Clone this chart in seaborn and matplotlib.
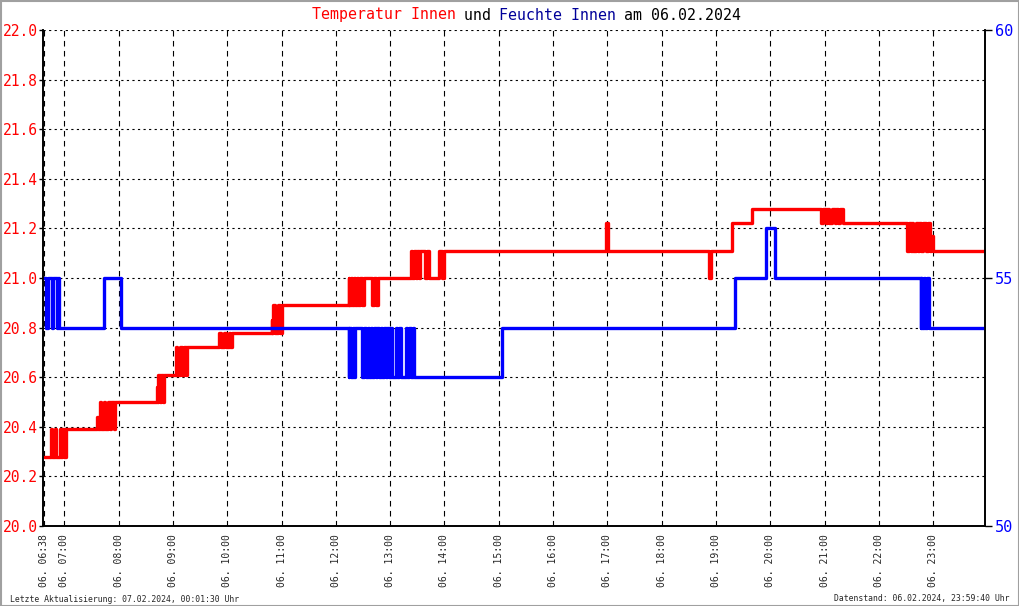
import matplotlib
matplotlib.use("Agg")
import matplotlib.pyplot as plt
import matplotlib.patches as mpatches
import numpy as np
import pandas as pd
import seaborn as sns

# Temperatur Innen (step values, held until next time stamp)
temp_times = ["06:38", "06:45", "06:46", "06:50", "06:51", "06:55", "06:56", "06:58", "07:00", "07:02",
              "07:36", "07:37", "07:39", "07:41", "07:44", "07:45", "07:48", "07:50", "07:52", "07:55", "07:56",
              "08:42", "08:43", "08:44", "08:46", "08:47", "08:49", "08:50",
              "09:03", "09:04", "09:08", "09:10", "09:12", "09:14", "09:16",
              "09:51", "09:53", "09:56", "09:59", "10:02", "10:03", "10:05",
              "10:49", "10:50", "10:51", "10:53", "10:56", "10:58", "11:00",
              "12:14", "12:15", "12:17", "12:18", "12:20", "12:21", "12:23", "12:25", "12:27", "12:29", "12:31",
              "12:40", "12:42", "12:44", "12:47",
              "13:23", "13:24", "13:26", "13:28", "13:30", "13:32", "13:33", "13:38", "13:41", "13:43",
              "13:54", "13:57", "13:59", "14:02",
              "16:59", "17:01", "18:52", "18:55", "19:18", "19:40",
              "20:56", "20:58", "21:01", "21:03", "21:05", "21:08", "21:11", "21:13", "21:15", "21:17", "21:20",
              "22:31", "22:33", "22:35", "22:37", "22:38", "22:41", "22:43", "22:44", "22:47", "22:49",
              "22:52", "22:54", "22:56", "22:58", "23:00", "24:00"]
temp_values = [20.28, 20.39, 20.28, 20.39, 20.28, 20.39, 20.28, 20.39, 20.28, 20.39,
               20.44, 20.39, 20.50, 20.39, 20.50, 20.39, 20.50, 20.39, 20.50, 20.39, 20.50,
               20.56, 20.50, 20.61, 20.50, 20.61, 20.50, 20.61,
               20.72, 20.61, 20.72, 20.61, 20.72, 20.61, 20.72,
               20.78, 20.72, 20.78, 20.72, 20.78, 20.72, 20.78,
               20.83, 20.78, 20.89, 20.78, 20.89, 20.78, 20.89,
               21.00, 20.89, 21.00, 20.89, 21.00, 20.89, 21.00, 20.89, 21.00, 20.89, 21.00,
               20.89, 21.00, 20.89, 21.00,
               21.11, 21.00, 21.11, 21.00, 21.11, 21.00, 21.11, 21.00, 21.11, 21.00,
               21.11, 21.00, 21.11, 21.11,
               21.22, 21.11, 21.00, 21.11, 21.22, 21.28,
               21.22, 21.28, 21.22, 21.28, 21.22, 21.28, 21.22, 21.28, 21.22, 21.28, 21.22,
               21.11, 21.22, 21.11, 21.22, 21.11, 21.22, 21.11, 21.22, 21.11, 21.22,
               21.11, 21.22, 21.11, 21.17, 21.11, 21.11]

# Feuchte Innen
hum_times = ["06:38", "06:40", "06:42", "06:46", "06:48", "06:52", "06:53", "06:54",
             "07:44", "08:03",
             "12:14", "12:15", "12:17", "12:19", "12:20", "12:21", "12:29", "12:31", "12:33", "12:35", "12:37",
             "12:39", "12:40", "12:42", "12:44", "12:46", "12:48", "12:50", "12:51", "12:53", "12:55", "12:57",
             "12:59", "13:01", "13:02", "13:07", "13:08", "13:10", "13:12", "13:18", "13:19", "13:21", "13:23",
             "13:25", "13:26", "13:28",
             "15:04", "19:21", "19:55", "20:05",
             "22:46", "22:47", "22:48", "22:50", "22:51", "22:53", "22:55", "24:00"]
hum_values = [55, 54, 55, 54, 55, 54, 55, 54,
              55, 54,
              53, 54, 53, 54, 53, 54, 53, 54, 53, 54, 53,
              54, 53, 54, 53, 54, 53, 54, 53, 54, 53, 54,
              53, 54, 53, 54, 53, 54, 53, 54, 53, 54, 53,
              54, 53, 53,
              54, 55, 56, 55,
              54, 55, 54, 55, 54, 55, 54, 54]

hour_ticks = [6 + 38 / 60] + list(range(7, 24))
tick_labels = ["06. 06:38"] + ["06. %02d:00" % h for h in range(7, 24)]
temp_ticks = [20.0, 20.2, 20.4, 20.6, 20.8, 21.0, 21.2, 21.4, 21.6, 21.8, 22.0]
hum_ticks = [50, 55, 60]


def to_hours(ts):
    return [int(t[:2]) + int(t[3:]) / 60 for t in ts]


df_t = pd.DataFrame({"t": to_hours(temp_times), "v": temp_values})
df_h = pd.DataFrame({"t": to_hours(hum_times), "v": hum_values})

sns.set_style("white")
plt.rcParams["font.family"] = ["DejaVu Sans Mono", "DejaVu Sans"]

W, H = 1020, 606
fig = plt.figure(figsize=(W / 100, H / 100), dpi=100)
fig.patch.set_facecolor("white")
ax = fig.add_axes([43 / W, 1 - 526 / H, (985 - 43) / W, (526 - 30) / H])
ax2 = ax.twinx()

sns.lineplot(data=df_t, x="t", y="v", ax=ax, color="#ff0000", lw=2.4,
             estimator=None, sort=False, drawstyle="steps-post")
sns.lineplot(data=df_h, x="t", y="v", ax=ax2, color="#0000ff", lw=2.4,
             estimator=None, sort=False, drawstyle="steps-post")

px_per_hour = 54.31
x0 = 7 - (64.3 - 43) / px_per_hour
x1 = x0 + (985 - 43) / px_per_hour
ax.set_xlim(x0, x1)
ax.set_ylim(20.0, 22.0)
ax2.set_ylim(50, 60)

ax.set_xticks(hour_ticks)
ax.set_xticklabels(tick_labels, rotation=90, fontsize=7.0, va="top")
ax.set_yticks(temp_ticks)
ax.set_yticklabels(["%.1f" % v for v in temp_ticks], color="#ff0000", fontsize=10.5)
ax2.set_yticks(hum_ticks)
ax2.set_yticklabels([str(v) for v in hum_ticks], color="#0000ff", fontsize=11)

ax.grid(axis="x", color="black", linestyle=(0, (5, 4)), lw=0.8)
ax.grid(axis="y", color="black", linestyle=(0, (2, 3)), lw=0.8)
ax.set_xlabel("")
ax.set_ylabel("")
ax2.set_ylabel("")

for a in (ax, ax2):
    for s in a.spines.values():
        s.set_color("black")
        s.set_linewidth(1.2)
    a.spines["top"].set_visible(False)
ax.tick_params(axis="y", length=3, width=1, color="black", pad=1)
ax.tick_params(axis="x", direction="inout", length=6, width=1, color="black", pad=3)
ax2.tick_params(axis="y", length=5, width=1, color="black", pad=2)

# title in several colours (monospace, so place by character count)
cw = 8.92
parts = [("Temperatur Innen", "#ff0000"), (" und ", "black"),
         ("Feuchte Innen", "#000099"), (" am 06.02.2024", "black")]
pos = 312
for txt, col in parts:
    fig.text(pos / W, 1 - 15 / H, txt, color=col, fontsize=10.7, ha="left", va="center")
    pos += cw * len(txt)

fig.text(10 / W, 1 - 599 / H, "Letzte Aktualisierung: 07.02.2024, 00:01:30 Uhr",
         fontsize=5.9, ha="left", va="center")
fig.text(1010 / W, 1 - 599 / H, "Datenstand: 06.02.2024, 23:59:40 Uhr",
         fontsize=5.9, ha="right", va="center")

fig.patches.append(mpatches.Rectangle((0.5 / W, 0.5 / H), 1 - 1.5 / W, 1 - 1.5 / H,
                                      transform=fig.transFigure, fill=False,
                                      edgecolor="#a0a0a0", lw=1.5))

fig.savefig("out.png", dpi=100)
